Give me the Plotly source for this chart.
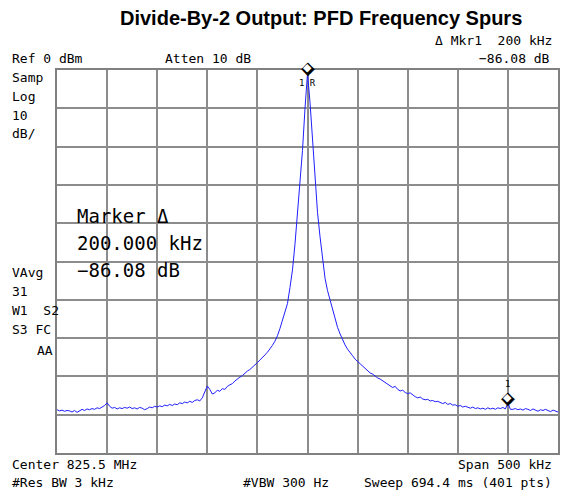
import numpy as np
import plotly.graph_objects as go

# ---------------- data ----------------
CENTER_MHZ = 825.5
SPAN_KHZ = 500
REF_DBM = 0
DB_PER_DIV = 10

# trace level (dBm), sweep from -250 kHz to +250 kHz offset, 2.5 kHz step
TRACE_DBM = [
    -88.7, -89.0, -88.8, -89.1, -88.9, -89.0, -89.3, -88.9, -89.4, -89.0,   # -250 .. -227.5
    -88.6, -88.9, -88.5, -88.7, -88.4, -88.6, -88.2, -88.4, -88.0, -87.6,   # -225 .. -202.5
    -86.9, -87.8, -88.3, -88.1, -88.5, -88.2, -88.4, -88.1, -88.3, -88.0,   # -200 .. -177.5
    -88.4, -88.2, -88.5, -88.1, -88.3, -88.7, -88.4, -88.0, -88.2, -87.8,   # -175 .. -152.5
    -88.0, -87.7, -87.9, -87.5, -87.7, -87.3, -87.6, -87.2, -87.4, -86.9,   # -150 .. -127.5
    -87.1, -86.7, -86.9, -86.5, -86.8, -86.3, -86.1, -86.4, -85.6, -84.2,   # -125 .. -102.5
    -82.5, -83.4, -84.6, -84.3, -83.6, -83.9, -83.2, -83.4, -82.6, -82.2,   # -100 .. -77.5
    -81.9, -81.2, -80.6, -80.2, -79.8, -79.1, -78.6, -78.2, -77.5, -77.0,   # -75 .. -52.5
    -76.4, -75.8, -75.1, -74.4, -73.7, -72.9, -71.9, -70.8, -69.4, -67.5,   # -50 .. -27.5
    -65.3, -63.2, -61.0, -56.8, -52.2, -45.5, -38.0, -30.5, -21.0, -10.0,   # -25 .. -2.5
    -0.9,                                                                   # 0
    -8.4, -18.6, -29.2, -37.2, -43.5, -48.8, -54.4, -57.6, -60.0, -62.6,    # 2.5 .. 25
    -64.9, -67.2, -68.9, -70.4, -71.8, -72.9, -73.9, -74.6, -75.5, -76.1,   # 27.5 .. 50
    -76.7, -77.2, -77.8, -78.5, -79.1, -79.4, -80.0, -80.4, -80.7, -81.1,   # 52.5 .. 75
    -81.6, -82.0, -82.3, -82.9, -82.6, -83.4, -83.8, -83.6, -84.2, -84.5,   # 77.5 .. 100
    -84.3, -84.9, -85.3, -85.6, -85.4, -85.9, -86.1, -86.0, -86.4, -86.3,   # 102.5 .. 125
    -86.6, -86.5, -86.9, -87.1, -86.8, -87.3, -87.1, -87.5, -87.4, -87.8,   # 127.5 .. 150
    -87.6, -88.0, -87.8, -88.1, -88.3, -88.0, -88.4, -88.2, -88.5, -88.3,   # 152.5 .. 175
    -88.6, -88.2, -88.5, -88.3, -88.6, -88.2, -88.4, -88.1, -88.5, -86.98,  # 177.5 .. 200
    -88.6, -88.6, -88.4, -88.7, -88.5, -88.8, -88.4, -88.6, -88.9, -88.5,   # 202.5 .. 225
    -88.8, -89.1, -88.7, -88.9, -88.6, -89.0, -89.2, -88.8, -89.1, -89.3,   # 227.5 .. 250
]
N_PTS = len(TRACE_DBM)
FREQ_KHZ = np.linspace(-SPAN_KHZ / 2, SPAN_KHZ / 2, N_PTS)

# markers: (offset kHz, level dBm, label)
MARKERS = [(0.0, -0.9, "1\u2009R"), (200.0, -86.98, "1")]

TITLE = "Divide-By-2 Output: PFD Frequency Spurs"

# ---------------- layout geometry ----------------
W, H = 561, 494
L, R, T, B = 57, 560, 70, 453
PW, PH = R - L, B - T

def pxx(x):
    return (x - L) / PW

def pyy(y):
    return (B - y) / PH

MONO = "DejaVu Sans Mono"
GRID = "#8c8c8c"

fig = go.Figure()
fig.add_trace(go.Scatter(
    x=FREQ_KHZ, y=TRACE_DBM, mode="lines",
    line=dict(color="#1f1fff", width=1),
    hoverinfo="skip", showlegend=False,
))

fig.update_xaxes(range=[-SPAN_KHZ / 2, SPAN_KHZ / 2], dtick=SPAN_KHZ / 10, showticklabels=False,
                 showgrid=True, gridcolor=GRID, gridwidth=1.5, zeroline=False,
                 showline=True, linecolor="#808080", linewidth=2, mirror=True, ticks="")
fig.update_yaxes(range=[REF_DBM - 10 * DB_PER_DIV, REF_DBM], dtick=DB_PER_DIV, showticklabels=False,
                 showgrid=True, gridcolor=GRID, gridwidth=1.5, zeroline=False,
                 showline=True, linecolor="#808080", linewidth=2, mirror=True, ticks="")

ann = []

def txt(x, y, s, size=13, anchor="left", family=MONO, color="black", bold=False):
    if bold:
        s = "<b>" + s + "</b>"
    ann.append(dict(x=pxx(x), y=pyy(y), xref="paper", yref="paper", text=s, showarrow=False,
                    xanchor=anchor, yanchor="middle",
                    font=dict(family=family, size=size, color=color)))

# marker diamonds (outlined, drawn just above the measured point) and their labels
for i, (mx, my, lab) in enumerate(MARKERS):
    for size, col in ((18, "black"), (11, "white")):
        ann.append(dict(x=mx, y=my, xref="x", yref="y", text="\u25c6", showarrow=False,
                        xanchor="center", yanchor="middle", yshift=6,
                        font=dict(family="DejaVu Sans", size=size, color=col)))
    ann.append(dict(x=mx, y=my, xref="x", yref="y", text=lab, showarrow=False,
                    xanchor="center", yanchor="middle", yshift=(-10 if i == 0 else 19),
                    font=dict(family=MONO, size=9, color="black")))

txt(322, 18, TITLE, size=20, anchor="center", family="Liberation Sans", bold=True)
txt(556, 40, "\u0394 Mkr1  200 kHz", anchor="right")
txt(10, 58, "Ref 0 dBm")
txt(163, 58, "Atten 10 dB")
txt(554, 58, "\u221286.08 dB", anchor="right")
for i, s in enumerate(["Samp", "Log", "10", "dB/"]):
    txt(10, 77 + 19 * i, s)
for i, s in enumerate(["VAvg", "31", "W1  S2", "S3 FC"]):
    txt(10, 272 + 19 * i, s)
txt(55, 350, "AA", anchor="right")
txt(75, 216, "Marker \u0394", size=19)
txt(75, 243, "200.000 kHz", size=19)
txt(75, 270, "\u221286.08 dB", size=19)
txt(10, 464, "Center %.1f MHz" % CENTER_MHZ)
txt(556, 464, "Span %d kHz" % SPAN_KHZ, anchor="right")
txt(10, 482, "#Res BW 3 kHz")
txt(242, 482, "#VBW 300 Hz")
txt(556, 482, "Sweep 694.4 ms (%d pts)" % 401, anchor="right")

fig.update_layout(
    width=W, height=H,
    margin=dict(l=L, r=W - R, t=T, b=H - B),
    paper_bgcolor="white", plot_bgcolor="white",
    annotations=ann, showlegend=False,
)

fig.write_html("out.html", config={"displayModeBar": False},
               post_script="document.body.style.margin='0';document.body.style.overflow='hidden';")
